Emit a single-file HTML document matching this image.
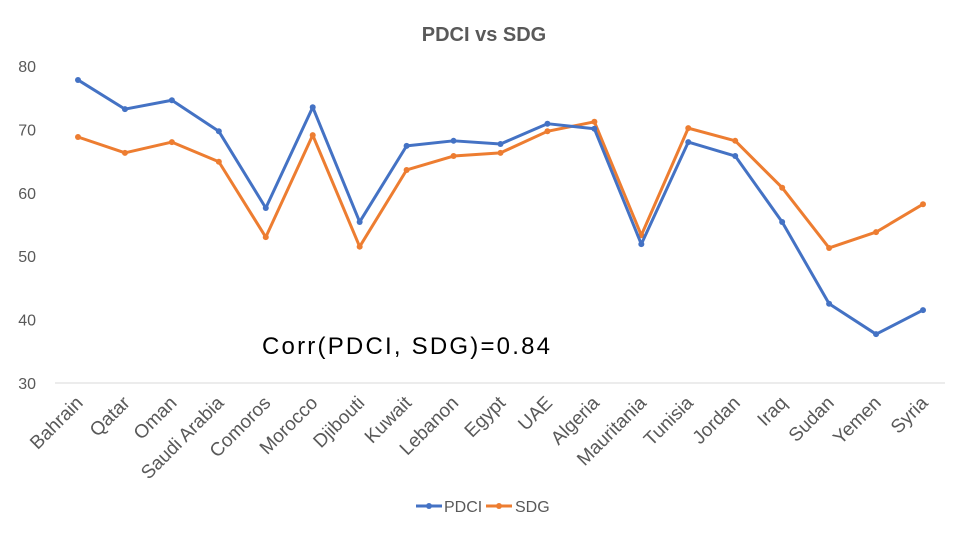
<!DOCTYPE html>
<html><head><meta charset="utf-8"><style>
body{margin:0;background:#fff;width:960px;height:540px;overflow:hidden}
text{font-family:"Liberation Sans",sans-serif}
</style></head><body>
<svg id="c" width="960" height="540">
<text x="484" y="41" text-anchor="middle" font-size="20" font-weight="bold" fill="#595959">PDCI vs SDG</text>
<line x1="55" y1="383" x2="945" y2="383" stroke="#d9d9d9" stroke-width="1"/>
<g id="yt"></g><g id="xt"></g><g id="series"></g>
<text x="262" y="354" font-size="24" fill="#000" textLength="288" lengthAdjust="spacing">Corr(PDCI, SDG)=0.84</text>
<g>
<line x1="416" y1="506" x2="442" y2="506" stroke="#4472c4" stroke-width="3"/><circle cx="429" cy="506" r="3" fill="#4472c4"/>
<text x="444" y="512" font-size="16" fill="#595959">PDCI</text>
<line x1="486" y1="506" x2="512" y2="506" stroke="#ed7d31" stroke-width="3"/><circle cx="499" cy="506" r="3" fill="#ed7d31"/>
<text x="515" y="512" font-size="16" fill="#595959">SDG</text>
</g>
</svg>
<script>
const categories=["Bahrain","Qatar","Oman","Saudi Arabia","Comoros","Morocco","Djibouti","Kuwait","Lebanon","Egypt","UAE","Algeria","Mauritania","Tunisia","Jordan","Iraq","Sudan","Yemen","Syria"];
const pdci=[77.8,73.2,74.6,69.7,57.6,73.5,55.4,67.4,68.2,67.7,70.9,70.1,51.9,68.0,65.8,55.4,42.5,37.7,41.5];
const sdg=[68.8,66.3,68.0,64.9,53.0,69.1,51.5,63.6,65.8,66.3,69.7,71.2,53.3,70.2,68.2,60.8,51.3,53.8,58.2];
const yTicks=[30,40,50,60,70,80];
const NS="http://www.w3.org/2000/svg";
const x=i=>78+i*(923-78)/(categories.length-1);
const y=v=>383-(v-30)*(383-66)/50;
function mk(t,a,p){const e=document.createElementNS(NS,t);for(const k in a)e.setAttribute(k,a[k]);p.appendChild(e);return e;}
const yt=document.getElementById('yt');
yTicks.forEach(v=>{const t=mk('text',{x:36,y:y(v)+6,'text-anchor':'end','font-size':16,fill:'#595959'},yt);t.textContent=v;

});
const xt=document.getElementById('xt');
categories.forEach((c,i)=>{const px=x(i)+6,py=404;const t=mk('text',{x:px,y:py,'text-anchor':'end','font-size':19,fill:'#595959',transform:`rotate(-45 ${px} ${py})`},xt);t.textContent=c;

});
const sg=document.getElementById('series');
[[sdg,'#ed7d31','sdg'],[pdci,'#4472c4','pdci']].forEach(([d,col,n])=>{
const pl=mk('polyline',{points:d.map((v,i)=>x(i)+','+y(v)).join(' '),fill:'none',stroke:col,'stroke-width':3,'stroke-linejoin':'round'},sg);


d.forEach((v,i)=>{const c=mk('circle',{cx:x(i),cy:y(v),r:3,fill:col},sg);

});});
</script>
</body></html>
